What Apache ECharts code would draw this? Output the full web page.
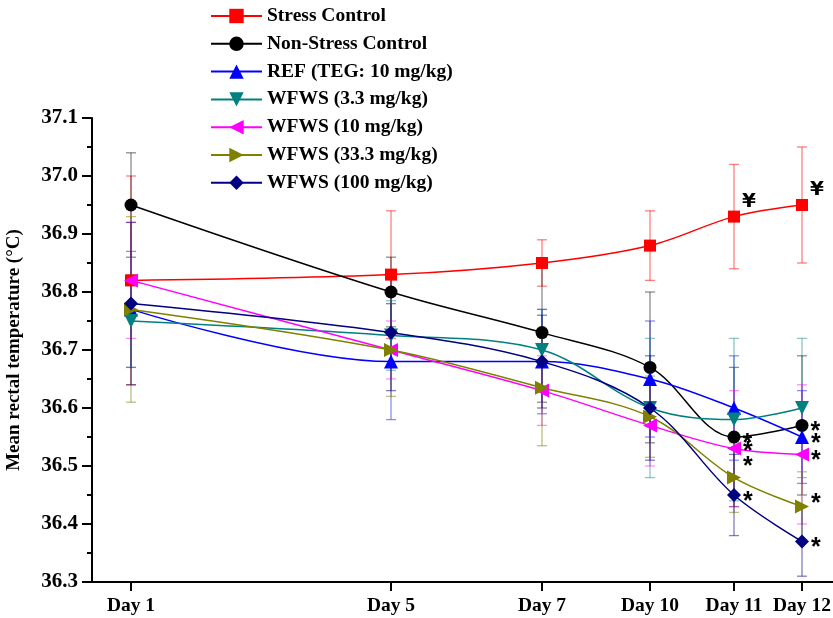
<!DOCTYPE html>
<html><head><meta charset="utf-8">
<script src="https://cdn.jsdelivr.net/npm/echarts@6/dist/echarts.min.js"></script>
<style>html,body{margin:0;padding:0;background:#fff}#c{width:833px;height:618px}</style>
</head><body><div id="c"></div><script>
// ---- data ----
const days = ['Day 1','Day 5','Day 7','Day 10','Day 11','Day 12'];
const yTicks = [36.3,36.4,36.5,36.6,36.7,36.8,36.9,37.0,37.1];
const seriesNames = ['Stress Control','Non-Stress Control','REF (TEG: 10 mg/kg)','WFWS (3.3 mg/kg)','WFWS (10 mg/kg)','WFWS (33.3 mg/kg)','WFWS (100 mg/kg)'];
const stressMean    = [36.82,36.83,36.85,36.88,36.93,36.95];
const stressErr     = [0.18,0.11,0.04,0.06,0.09,0.10];
const nonStressMean = [36.95,36.80,36.73,36.67,36.55,36.57];
const nonStressErr  = [0.09,0.06,0.12,0.13,0.12,0.12];
const refMean       = [36.77,36.68,36.68,36.65,36.60,36.55];
const refErr        = [0.10,0.10,0.09,0.10,0.09,0.08];
const w3Mean        = [36.75,36.725,36.70,36.60,36.58,36.60];
const w3Err         = [0.08,0.06,0.07,0.12,0.14,0.12];
const w10Mean       = [36.82,36.70,36.63,36.57,36.53,36.52];
const w10Err        = [0.10,0.05,0.06,0.07,0.10,0.12];
const w33Mean       = [36.77,36.70,36.635,36.585,36.48,36.43];
const w33Err        = [0.16,0.08,0.10,0.07,0.06,0.06];
const w100Mean      = [36.78,36.73,36.68,36.60,36.45,36.37];
const w100Err       = [0.14,0.10,0.08,0.09,0.07,0.06];
const stressMarks    = ['','','','','¥','¥'];
const nonStressMarks = ['','','','','*','*'];
const refMarks       = ['','','','','','*'];
const w3Marks        = ['','','','','',''];
const w10Marks       = ['','','','','*','*'];
const w33Marks       = ['','','','','*','*'];
const w100Marks      = ['','','','','*','*'];

// ---- layout (axis positions of the unevenly spaced days, label nudges) ----
const dayAxisPos = [131,391,542,650,734,802];
const SERIF = '"Liberation Serif","Times New Roman",serif';
const markLift = {olive:[0,0,0,0,-17,-9], magenta:[0,0,0,0,-3,0]};

const defs = [
  {name:seriesNames[0], mean:stressMean, err:stressErr, marks:stressMarks, color:'#FF0000', rgba:'rgba(255,0,0,0.5)', symbol:'rect', rot:0, size:12, yen:true},
  {name:seriesNames[1], mean:nonStressMean, err:nonStressErr, marks:nonStressMarks, color:'#000000', rgba:'rgba(0,0,0,0.45)', symbol:'circle', rot:0, size:13},
  {name:seriesNames[2], mean:refMean, err:refErr, marks:refMarks, color:'#0000FF', rgba:'rgba(0,0,255,0.45)', symbol:'triangle', rot:0, size:14},
  {name:seriesNames[3], mean:w3Mean, err:w3Err, marks:w3Marks, color:'#008080', rgba:'rgba(0,128,128,0.45)', symbol:'triangle', rot:180, size:14},
  {name:seriesNames[4], mean:w10Mean, err:w10Err, marks:w10Marks, color:'#FF00FF', rgba:'rgba(255,0,255,0.45)', symbol:'triangle', rot:90, size:14, lift:markLift.magenta},
  {name:seriesNames[5], mean:w33Mean, err:w33Err, marks:w33Marks, color:'#808000', rgba:'rgba(128,128,0,0.5)', symbol:'triangle', rot:-90, size:14, lift:markLift.olive},
  {name:seriesNames[6], mean:w100Mean, err:w100Err, marks:w100Marks, color:'#000080', rgba:'rgba(0,0,128,0.5)', symbol:'diamond', rot:0, size:14}
];

const series = [];
defs.forEach(d => {
  series.push({
    type:'custom', name:d.name + ' error', silent:true, z:1,
    data: d.mean.map((m,i)=>[dayAxisPos[i], m - d.err[i], m + d.err[i]]),
    renderItem:(params, api)=>{
      const lo = api.coord([api.value(0), api.value(1)]);
      const hi = api.coord([api.value(0), api.value(2)]);
      const cw = 5;
      const style = {stroke:d.rgba, lineWidth:1.3};
      return {type:'group', children:[
        {type:'line', shape:{x1:lo[0],y1:lo[1],x2:hi[0],y2:hi[1]}, style},
        {type:'line', shape:{x1:lo[0]-cw,y1:lo[1],x2:lo[0]+cw,y2:lo[1]}, style},
        {type:'line', shape:{x1:hi[0]-cw,y1:hi[1],x2:hi[0]+cw,y2:hi[1]}, style}
      ]};
    }
  });
});
defs.forEach(d => {
  const isYen = !!d.yen;
  series.push({
    type:'line', name:d.name, z:3,
    data: d.mean.map((m,i)=>{
      const item = {value:[dayAxisPos[i], m]};
      if (d.lift && d.lift[i]) item.label = {offset:[0, 7 + d.lift[i]]};
      return item;
    }),
    smooth:0.35, symbol:d.symbol, symbolRotate:d.rot, symbolSize:d.size,
    lineStyle:{color:d.color, width:1.5},
    itemStyle:{color:d.color},
    emphasis:{disabled:true},
    label:{show:true, position:'right', distance:2,
      formatter:p=>d.marks[p.dataIndex],
      color:'#000',
      fontFamily: isYen ? '"DejaVu Sans",sans-serif' : '"Liberation Sans",sans-serif',
      fontWeight: 'bold',
      fontSize: isYen ? 20 : 25,
      offset: isYen ? [0,-15] : [0,7]}
  });
});

const chart = echarts.init(document.getElementById('c'), null, {renderer:'canvas'});
chart.setOption({
  animation:false,
  backgroundColor:'#fff',
  grid:{left:92, right:0, top:118, bottom:36, containLabel:false, outerBoundsMode:'none'},
  legend:{
    data:seriesNames, orient:'vertical', left:210, top:6, padding:0,
    itemWidth:51, itemHeight:18, itemGap:7.8,
    textStyle:{fontFamily:SERIF, fontWeight:'bold', fontSize:19.5, color:'#000', lineHeight:20},
    selectedMode:false
  },
  xAxis:{
    type:'value', min:92, max:833,
    splitLine:{show:false},
    axisLine:{lineStyle:{color:'#000', width:2}},
    axisTick:{show:true, customValues:dayAxisPos, length:9, lineStyle:{color:'#000', width:2}},
    axisLabel:{customValues:dayAxisPos, margin:14, color:'#000', fontFamily:SERIF, fontWeight:'bold', fontSize:19.5,
      formatter:v=>{const i=dayAxisPos.indexOf(v); return i>=0?days[i]:'';}}
  },
  yAxis:{
    type:'value', min:yTicks[0], max:yTicks[yTicks.length-1], interval:0.1,
    name:'Mean rectal temperature (°C)', nameLocation:'middle', nameRotate:90, nameGap:68,
    nameTextStyle:{fontFamily:SERIF, fontWeight:'bold', fontSize:19, color:'#000'},
    splitLine:{show:false},
    axisLine:{show:true, lineStyle:{color:'#000', width:2}},
    axisTick:{show:true, length:10, lineStyle:{color:'#000', width:2}},
    minorTick:{show:true, splitNumber:2, length:5, lineStyle:{color:'#000', width:2}},
    axisLabel:{margin:14, color:'#000', fontFamily:SERIF, fontWeight:'bold', fontSize:21,
      formatter:v=>v.toFixed(1)}
  },
  series:series
});
</script></body></html>
